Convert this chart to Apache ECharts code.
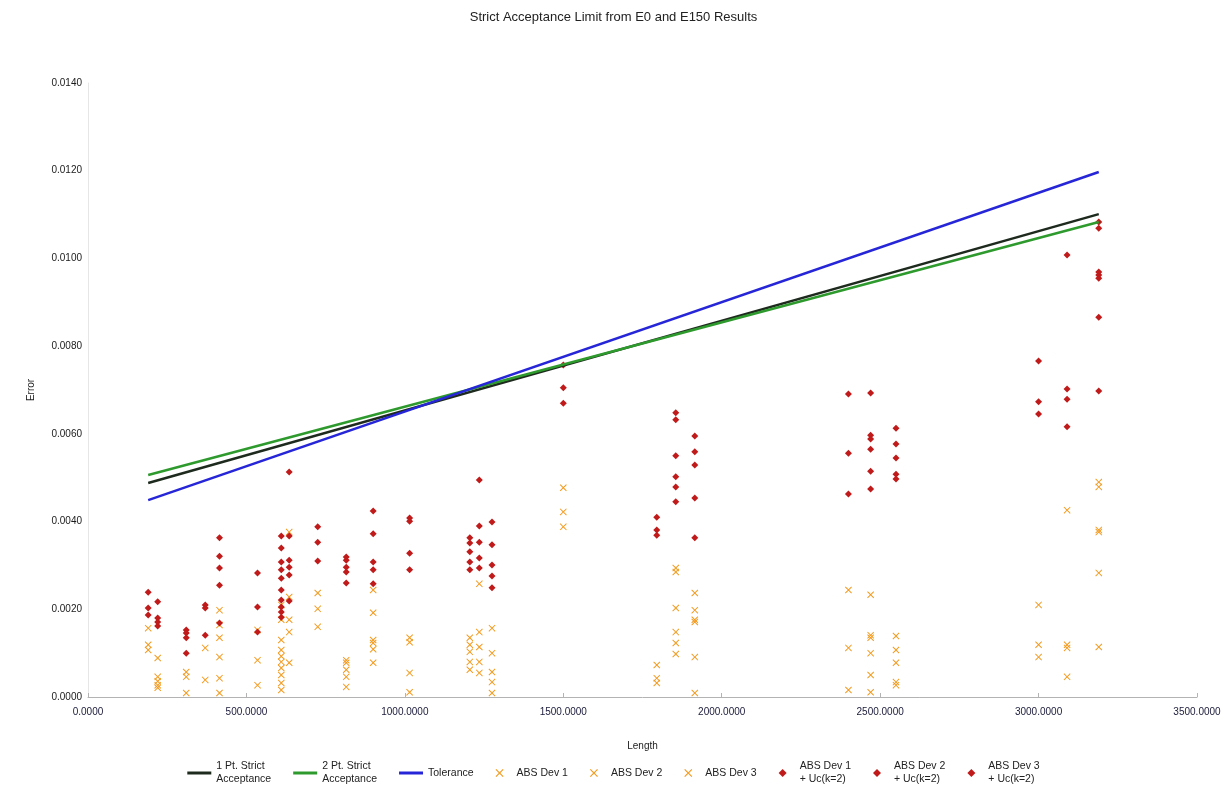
<!DOCTYPE html>
<html>
<head>
<meta charset="utf-8">
<title>Strict Acceptance Limit</title>
<script src="https://cdn.jsdelivr.net/npm/echarts@6/dist/echarts.min.js"></script>
<style>
  html, body { margin: 0; padding: 0; background: #fff; }
  #chart-box { width: 1227px; height: 797px; }
</style>
</head>
<body>
<div id="chart-box"></div>
<script>
// fitted limit lines, [length, error]
const onePtStrict = [[190, 0.00488], [3190, 0.01101]];
const twoPtStrict = [[190, 0.00506], [3190, 0.01083]];
const tolerance = [[190, 0.00449], [3190, 0.01197]];

// absolute deviations
const absDev1 = [[190,0.00157],[220,0.00089],[220,0.00027],[310,0.00057],[370,0.00112],[415,0.00198],[415,0.00091],[535,0.00153],[610,0.00210],[610,0.00093],[610,0.00050],[610,0.00016],[635,0.00376],[635,0.00148],[725,0.00237],[815,0.00084],[815,0.00046],[900,0.00244],[900,0.00123],[1015,0.00135],[1015,0.00011],[1205,0.00135],[1205,0.00080],[1235,0.00258],[1235,0.00080],[1275,0.00157],[1275,0.00034],[1500,0.00477],[1795,0.00073],[1855,0.00294],[1855,0.00148],[1915,0.00237],[1915,0.00171],[2400,0.00244],[2470,0.00233],[2470,0.00100],[2550,0.00139],[2550,0.00034],[3000,0.00210],[3090,0.00426],[3090,0.00046],[3190,0.00490],[3190,0.00376]];
const absDev2 = [[190,0.00119],[220,0.00046],[220,0.00021],[310,0.00046],[370,0.00039],[415,0.00164],[415,0.00043],[535,0.00084],[610,0.00176],[610,0.00080],[610,0.00032],[635,0.00228],[635,0.00078],[725,0.00201],[815,0.00078],[815,0.00023],[900,0.00192],[900,0.00109],[1015,0.00125],[1205,0.00119],[1205,0.00062],[1235,0.00148],[1235,0.00055],[1275,0.00100],[1275,0.00009],[1500,0.00422],[1795,0.00043],[1855,0.00285],[1855,0.00123],[1915,0.00198],[1915,0.00091],[2400,0.00112],[2470,0.00141],[2470,0.00050],[2550,0.00107],[2550,0.00027],[3000,0.00119],[3090,0.00119],[3190,0.00479],[3190,0.00283]];
const absDev3 = [[190,0.00107],[220,0.00036],[310,0.00009],[415,0.00135],[415,0.00009],[535,0.00027],[610,0.00130],[610,0.00107],[610,0.00066],[635,0.00176],[725,0.00160],[815,0.00062],[900,0.00130],[900,0.00078],[1015,0.00055],[1205,0.00103],[1235,0.00114],[1275,0.00057],[1500,0.00388],[1795,0.00032],[1855,0.00203],[1855,0.00098],[1915,0.00176],[1915,0.00009],[2400,0.00016],[2470,0.00135],[2470,0.00011],[2550,0.00078],[3000,0.00091],[3090,0.00112],[3190,0.00381],[3190,0.00114]];

// deviations + Uc(k=2)
const absDev1Uc = [[190,0.00239],[220,0.00217],[220,0.00162],[310,0.00153],[310,0.00100],[370,0.00210],[415,0.00363],[415,0.00255],[535,0.00283],[610,0.00367],[610,0.00290],[610,0.00221],[610,0.00182],[635,0.00513],[635,0.00296],[725,0.00388],[815,0.00319],[815,0.00285],[900,0.00424],[900,0.00290],[1015,0.00408],[1015,0.00290],[1205,0.00363],[1205,0.00308],[1235,0.00495],[1235,0.00317],[1275,0.00399],[1275,0.00276],[1500,0.00757],[1795,0.00410],[1855,0.00648],[1855,0.00502],[1915,0.00595],[1915,0.00454],[2400,0.00691],[2470,0.00693],[2470,0.00565],[2550,0.00613],[2550,0.00508],[3000,0.00766],[3090,0.01008],[3090,0.00616],[3190,0.01083],[3190,0.00962],[3190,0.00698]];
const absDev2Uc = [[190,0.00203],[220,0.00180],[310,0.00146],[370,0.00203],[415,0.00321],[415,0.00169],[535,0.00205],[610,0.00340],[610,0.00271],[610,0.00205],[635,0.00367],[635,0.00278],[725,0.00353],[815,0.00312],[815,0.00260],[900,0.00372],[900,0.00258],[1015,0.00401],[1205,0.00351],[1205,0.00290],[1235,0.00390],[1235,0.00294],[1275,0.00347],[1275,0.00249],[1500,0.00705],[1795,0.00381],[1855,0.00632],[1855,0.00479],[1915,0.00559],[1915,0.00363],[2400,0.00556],[2470,0.00597],[2470,0.00515],[2550,0.00577],[2550,0.00497],[3000,0.00673],[3090,0.00702],[3190,0.01069],[3190,0.00955]];
const absDev3Uc = [[190,0.00187],[220,0.00171],[310,0.00135],[370,0.00141],[415,0.00294],[535,0.00148],[610,0.00308],[610,0.00244],[610,0.00194],[635,0.00312],[635,0.00219],[725,0.00310],[815,0.00296],[900,0.00308],[1015,0.00328],[1205,0.00331],[1235,0.00353],[1275,0.00301],[1500,0.00670],[1795,0.00369],[1855,0.00550],[1855,0.00445],[1915,0.00529],[2400,0.00463],[2470,0.00588],[2470,0.00474],[2550,0.00545],[3000,0.00645],[3090,0.00679],[3190,0.00969],[3190,0.00866]];

const FONT = 'Liberation Sans';
const ORANGE = '#f39a1e';
const RED = '#c01a1a';
const CROSS = 'path://M0,1L1,0L5,4L9,0L10,1L6,5L10,9L9,10L5,6L1,10L0,9L4,5Z';
const DIAMOND = 'path://M5,0L10,5L5,10L0,5Z';
const BAR = 'path://M0,0L24,0L24,3L0,3Z';

function lineSeries(name, data, color) {
  return {
    name: name, type: 'line', data: data, symbol: 'none',
    lineStyle: { color: color, width: 2.5 }, itemStyle: { color: color },
    z: 3
  };
}

function scatterSeries(name, data, color, symbol, size) {
  return {
    name: name, type: 'scatter', data: data,
    symbol: symbol, symbolSize: size,
    itemStyle: { color: color, opacity: 1 }
  };
}

const myChart = echarts.init(document.querySelector('#chart-box'));

const option = {
  animation: false,
  backgroundColor: '#fff',
  textStyle: { fontFamily: FONT },
  title: {
    text: 'Strict Acceptance Limit from E0 and E150 Results',
    left: 'center', top: 6,
    textStyle: { fontFamily: FONT, fontSize: 13, fontWeight: 'normal', color: '#222' }
  },
  grid: { left: 88, right: 30, top: 83, bottom: 100 },
  legend: {
    bottom: 6, left: 'center',
    itemWidth: 24, itemHeight: 8, itemGap: 22,
    symbolKeepAspect: true,
    textStyle: { fontFamily: FONT, fontSize: 10.5, color: '#222', lineHeight: 13 },
    data: [
      { name: '1 Pt. Strict\nAcceptance', icon: BAR },
      { name: '2 Pt. Strict\nAcceptance', icon: BAR },
      { name: 'Tolerance', icon: BAR },
      { name: 'ABS Dev 1', icon: CROSS },
      { name: 'ABS Dev 2', icon: CROSS },
      { name: 'ABS Dev 3', icon: CROSS },
      { name: 'ABS Dev 1\n+ Uc(k=2)', icon: DIAMOND },
      { name: 'ABS Dev 2\n+ Uc(k=2)', icon: DIAMOND },
      { name: 'ABS Dev 3\n+ Uc(k=2)', icon: DIAMOND }
    ]
  },
  xAxis: {
    type: 'value', min: 0, max: 3500, interval: 500,
    name: 'Length', nameLocation: 'middle', nameGap: 44,
    nameTextStyle: { fontFamily: FONT, fontSize: 10, color: '#222' },
    axisLine: { lineStyle: { color: '#b3b3b3' } },
    axisTick: { inside: true, length: 4, lineStyle: { color: '#b3b3b3' } },
    axisLabel: { fontFamily: FONT, fontSize: 10, color: '#1a1a3a', margin: 10, formatter: v => v.toFixed(4) },
    splitLine: { show: false }
  },
  yAxis: {
    type: 'value', min: 0, max: 0.014, interval: 0.002,
    name: 'Error', nameLocation: 'middle', nameGap: 52,
    nameTextStyle: { fontFamily: FONT, fontSize: 10, color: '#222' },
    axisLine: { show: true, lineStyle: { color: '#e6e6e6' } },
    axisTick: { show: false },
    axisLabel: { fontFamily: FONT, fontSize: 10, color: '#1a1a1a', margin: 6, formatter: v => v.toFixed(4) },
    splitLine: { show: false }
  },
  series: [
    lineSeries('1 Pt. Strict\nAcceptance', onePtStrict, '#1e2a1e'),
    lineSeries('2 Pt. Strict\nAcceptance', twoPtStrict, '#2e9a2e'),
    lineSeries('Tolerance', tolerance, '#2626d8'),
    scatterSeries('ABS Dev 1', absDev1, ORANGE, CROSS, 7),
    scatterSeries('ABS Dev 2', absDev2, ORANGE, CROSS, 7),
    scatterSeries('ABS Dev 3', absDev3, ORANGE, CROSS, 7),
    scatterSeries('ABS Dev 1\n+ Uc(k=2)', absDev1Uc, RED, DIAMOND, 7),
    scatterSeries('ABS Dev 2\n+ Uc(k=2)', absDev2Uc, RED, DIAMOND, 7),
    scatterSeries('ABS Dev 3\n+ Uc(k=2)', absDev3Uc, RED, DIAMOND, 7)
  ]
};

myChart.setOption(option);
</script>
</body>
</html>
